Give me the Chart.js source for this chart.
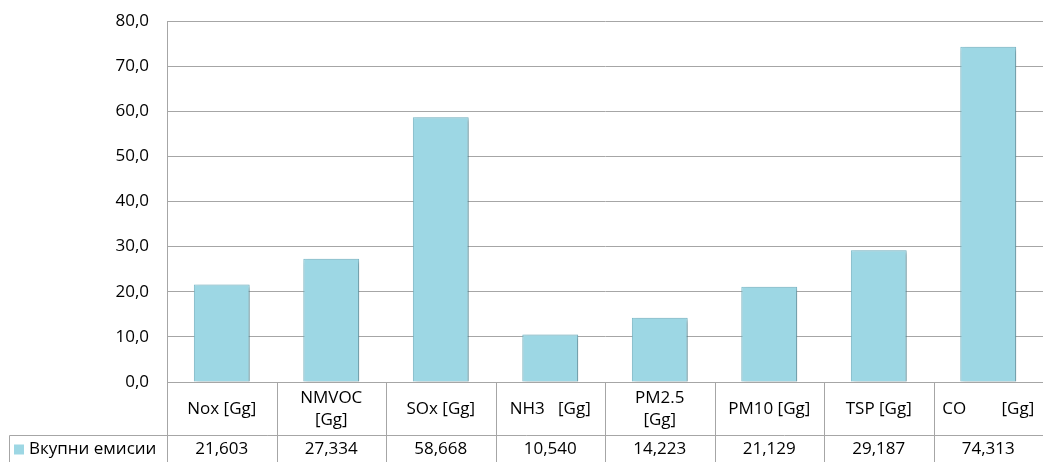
<!DOCTYPE html>
<html>
<head>
<meta charset="utf-8">
<script src="https://cdn.jsdelivr.net/npm/chart.js@4"></script>
<style>
  html, body { margin: 0; padding: 0; background: #ffffff; }
  #wrap { width: 1043px; height: 462px; position: relative; }
</style>
</head>
<body>
<div id="wrap"><canvas id="barChart"></canvas></div>
<script>
// категории (долу во табелата)
const categories = ['Nox [Gg]', ['NMVOC', '[Gg]'], 'SOx [Gg]', 'NH3   [Gg]', ['PM2.5', '[Gg]'], 'PM10 [Gg]', 'TSP [Gg]', 'CO        [Gg]'];
// вредности
const values = [21.603, 27.334, 58.668, 10.540, 14.223, 21.129, 29.187, 74.313];
const seriesName = 'Вкупни емисии';
// y оска
const yTicks = [0, 10, 20, 30, 40, 50, 60, 70, 80];

const fontFamily = "'Open Sans', 'Noto Sans', sans-serif";
const fontSize = 17;
const gridColor = '#a6a6a6';
const barColor = '#9dd7e4';
const barBorder = '#78b8c8';
const textColor = '#000000';

const fmt = (v, d) => v.toFixed(d).replace('.', ',');

// табела со податоци под графикот
const dataTable = {
    id: 'dataTable',
    afterDraw(chart) {
        const ctx = chart.ctx;
        const x = chart.scales.x;
        const area = chart.chartArea;
        const H = chart.height;
        const n = categories.length;
        const step = (area.right - area.left) / n;
        const rowTop = area.bottom + 53;
        const left = 9;

        ctx.save();
        ctx.strokeStyle = gridColor;
        ctx.lineWidth = 1;
        ctx.beginPath();
        for (let i = 0; i < n; i++) {
            const xb = Math.round(x.getPixelForValue(i) - step / 2) + 0.5;
            ctx.moveTo(xb, area.bottom);
            ctx.lineTo(xb, H);
        }
        ctx.moveTo(left + 0.5, rowTop + 0.5);
        ctx.lineTo(area.right, rowTop + 0.5);
        ctx.moveTo(left + 0.5, rowTop + 0.5);
        ctx.lineTo(left + 0.5, H);
        ctx.stroke();

        ctx.fillStyle = textColor;
        ctx.font = fontSize + 'px ' + fontFamily;
        ctx.textAlign = 'center';
        ctx.textBaseline = 'middle';
        const labelMid = (area.bottom + rowTop) / 2 + 1;
        const valueMid = (rowTop + H) / 2 + 1;
        categories.forEach((c, i) => {
            const cx = x.getPixelForValue(i);
            if (Array.isArray(c)) {
                ctx.fillText(c[0], cx, labelMid - 11);
                ctx.fillText(c[1], cx, labelMid + 11);
            } else {
                ctx.fillText(c, cx, labelMid);
            }
            ctx.fillText(fmt(values[i], 3), cx, valueMid);
        });

        // легенда во првата колона
        ctx.fillStyle = barColor;
        ctx.fillRect(14, valueMid - 5, 10, 10);
        ctx.fillStyle = textColor;
        ctx.textAlign = 'left';
        ctx.fillText(seriesName, 29, valueMid);
        ctx.restore();
    }
};

// сенка на столбовите
const barShadow = {
    id: 'barShadow',
    beforeDatasetDraw(chart) {
        const ctx = chart.ctx;
        ctx.save();
        ctx.shadowColor = 'rgba(0,0,0,0.3)';
        ctx.shadowBlur = 4;
        ctx.shadowOffsetX = 2;
        ctx.shadowOffsetY = 2;
    },
    afterDatasetDraw(chart) {
        chart.ctx.restore();
    }
};

const ctx = document.getElementById('barChart').getContext('2d');
new Chart(ctx, {
    type: 'bar',
    data: {
        labels: categories,
        datasets: [{
            label: seriesName,
            data: values,
            backgroundColor: barColor,
            borderColor: barBorder,
            borderWidth: 1,
            barPercentage: 0.51,
            categoryPercentage: 1.0
        }]
    },
    options: {
        responsive: true,
        maintainAspectRatio: false,
        animation: false,
        layout: { padding: { top: 21, right: 0, left: 0, bottom: 0 } },
        plugins: {
            legend: { display: false },
            tooltip: { enabled: false }
        },
        scales: {
            x: {
                ticks: { display: false },
                grid: { display: false },
                border: { display: false },
                afterFit(scale) { scale.height = 80; }
            },
            y: {
                min: 0,
                max: 80,
                afterBuildTicks(scale) {
                    scale.ticks = yTicks.map(v => ({ value: v }));
                },
                ticks: {
                    padding: 18,
                    color: textColor,
                    font: { family: fontFamily, size: fontSize },
                    callback: v => fmt(v, 1)
                },
                grid: { color: gridColor, drawTicks: false },
                border: { color: gridColor },
                afterFit(scale) {
                    scale.width = 167;
                    scale.paddingTop = 0;
                    scale.paddingBottom = 0;
                }
            }
        }
    },
    plugins: [dataTable, barShadow]
});
</script>
</body>
</html>
